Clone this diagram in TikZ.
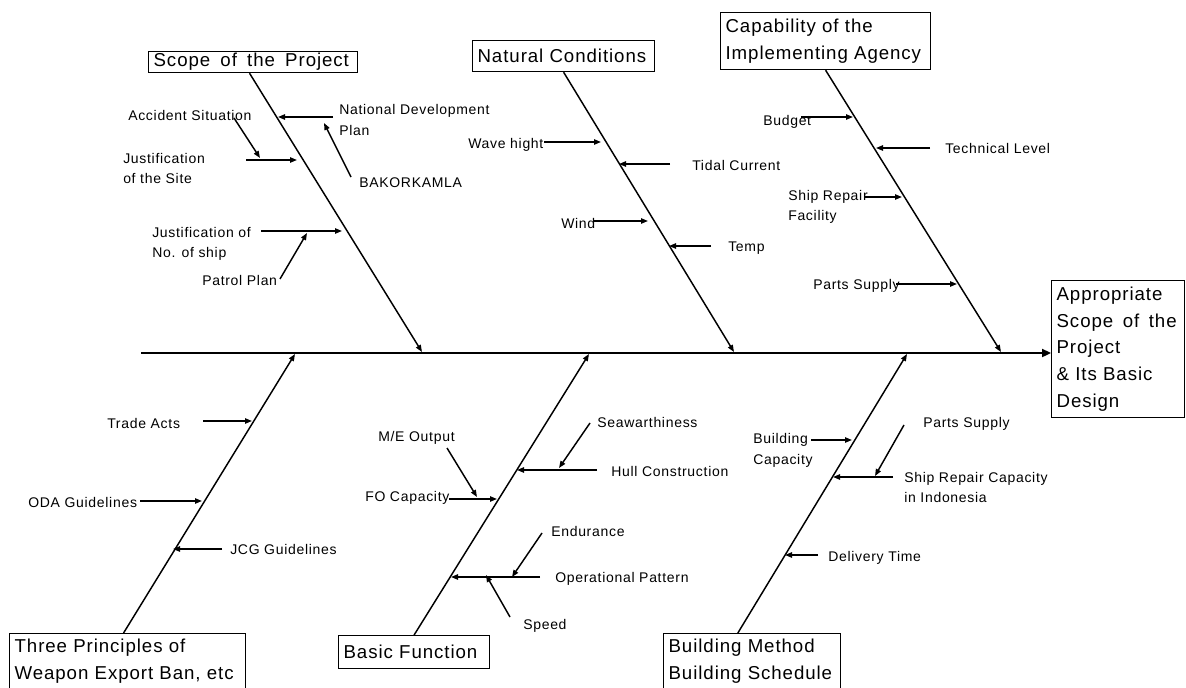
\documentclass[tikz,border=0pt]{standalone}
\usepackage{fontspec}
\setmainfont[LetterSpace=5]{Liberation Sans}
\usetikzlibrary{arrows.meta,calc}
\begin{document}
\begin{tikzpicture}[x=0.75pt, y=-0.75pt, >={Triangle[length=5.25pt,width=4pt]}, every node/.style={inner sep=0pt, align=left}]
\tikzstyle{box}=[draw, line width=0.9pt, anchor=north west, inner xsep=3.75pt, inner ysep=1pt, font=\fontsize{14}{20}\selectfont]
\tikzstyle{cause}=[anchor=west, font=\fontsize{10.5}{15.5}\selectfont]
\tikzstyle{bone}=[->, line width=1.1pt]
\tikzstyle{twig}=[->, line width=1.1pt]
\tikzstyle{spine}=[-{Triangle[length=6.75pt,width=6pt]}, line width=2.2pt]
\fill[white] (0,0) rectangle (1186,688);
\useasboundingbox (0,0) rectangle (1186,688);
\clip (0,0) rectangle (1186,688);
\node[box, text width=149.25pt, minimum height=15.75pt] (scope) at (148,51) {Scope\hspace{3pt} of\hspace{3pt} the\hspace{3pt} Project};
\node[box, text width=129pt, minimum height=23.25pt] (natural) at (472,40) {Natural Conditions};
\node[box, text width=150pt, minimum height=42.75pt] (capab) at (720,12) {Capability of the\\Implementing Agency};
\node[box, text width=92.25pt, minimum height=102.75pt] (main) at (1051,280) {Appropriate\\Scope\hspace{2.5pt} of\hspace{2.5pt} the\\Project\\\& Its Basic\\Design};
\node[box, text width=169.5pt, inner ysep=4pt] (three) at (9,633) {Three Principles of\\Weapon Export Ban, etc\\~};
\node[box, text width=105.75pt, minimum height=24.75pt] (basic) at (338,635) {Basic Function};
\node[box, text width=125.25pt, inner ysep=4pt] (build) at (663,633) {Building Method\\Building Schedule\\~};
\node[cause] (acc) at (128,115) {Accident Situation};
\node[cause] (site) at (123,168.5) {Justification\\of the Site};
\node[cause] (ndp) at (339,120) {National Development\\Plan};
\node[cause] (bak) at (359,183) {BAKORKAMLA};
\node[cause] (ship) at (152,244) {Justification of\\No. of ship};
\node[cause] (patrol) at (202,280) {Patrol Plan};
\node[cause] (wave) at (468,145) {Wave hight};
\node[cause] (tidal) at (692,165) {Tidal Current};
\node[cause] (wind) at (561,223) {Wind};
\node[cause] (temp) at (728,248) {Temp};
\node[cause] (budget) at (763,122) {Budget};
\node[cause] (tech) at (945,148) {Technical Level};
\node[cause] (srf) at (788,207) {Ship Repair\\Facility};
\node[cause] (parts) at (813,286) {Parts Supply};
\node[cause] (trade) at (107,423) {Trade Acts};
\node[cause] (oda) at (28,502) {ODA Guidelines};
\node[cause] (jcg) at (230,549) {JCG Guidelines};
\node[cause] (me) at (378,438) {M/E Output};
\node[cause] (fo) at (365,498) {FO Capacity};
\node[cause] (sea) at (597,422) {Seawarthiness};
\node[cause] (hull) at (611,471) {Hull Construction};
\node[cause] (endur) at (551,531) {Endurance};
\node[cause] (op) at (555,579) {Operational Pattern};
\node[cause] (speed) at (523,626) {Speed};
\node[cause] (bc) at (753,450.5) {Building\\Capacity};
\node[cause] (parts2) at (923,424) {Parts Supply};
\node[cause] (src) at (904,487.5) {Ship Repair Capacity\\in Indonesia};
\node[cause] (dt) at (828,558) {Delivery Time};
\coordinate (spine0) at (141,353);
\coordinate (tipS) at (422,352);
\coordinate (tipN) at (734,352);
\coordinate (tipC) at (1001,352);
\coordinate (tipT) at (295,354);
\coordinate (tipB) at (589,354);
\coordinate (tipM) at (907,354);
\coordinate (acc-t) at (234,118); \coordinate (acc-h) at (260,158);
\coordinate (site-t) at (246,160); \coordinate (site-h) at (297,160);
\coordinate (ndp-t) at (333,117); \coordinate (ndp-h) at (278,117);
\coordinate (bak-t) at (351,177); \coordinate (bak-h) at (324,123);
\coordinate (ship-t) at (261,231); \coordinate (ship-h) at (342,231);
\coordinate (patrol-t) at (280,279); \coordinate (patrol-h) at (307,233);
\coordinate (wave-t) at (544,142); \coordinate (wave-h) at (601,142);
\coordinate (tidal-t) at (670,164); \coordinate (tidal-h) at (619,164);
\coordinate (wind-t) at (593,221); \coordinate (wind-h) at (648,221);
\coordinate (temp-t) at (711,246); \coordinate (temp-h) at (669,246);
\coordinate (budget-t) at (801,117); \coordinate (budget-h) at (853,117);
\coordinate (tech-t) at (930,148); \coordinate (tech-h) at (876,148);
\coordinate (srf-t) at (864,197); \coordinate (srf-h) at (902,197);
\coordinate (parts-t) at (896,284); \coordinate (parts-h) at (957,284);
\coordinate (trade-t) at (203,421); \coordinate (trade-h) at (252,421);
\coordinate (oda-t) at (140,501); \coordinate (oda-h) at (202,501);
\coordinate (jcg-t) at (222,549); \coordinate (jcg-h) at (173,549);
\coordinate (me-t) at (447,448); \coordinate (me-h) at (477,497);
\coordinate (fo-t) at (449,499); \coordinate (fo-h) at (497,499);
\coordinate (sea-t) at (590,423); \coordinate (sea-h) at (559,468);
\coordinate (hull-t) at (597,470); \coordinate (hull-h) at (517,470);
\coordinate (endur-t) at (542,533); \coordinate (endur-h) at (512,577);
\coordinate (op-t) at (540,577); \coordinate (op-h) at (451,577);
\coordinate (speed-t) at (510,617); \coordinate (speed-h) at (486,575);
\coordinate (bc-t) at (811,440); \coordinate (bc-h) at (852,440);
\coordinate (parts2-t) at (904,425); \coordinate (parts2-h) at (875,476);
\coordinate (src-t) at (893,477); \coordinate (src-h) at (833,477);
\coordinate (dt-t) at (818,555); \coordinate (dt-h) at (785,555);
\draw[spine] (spine0) -- (spine0 -| main.west);
\draw[bone] ($(scope.south west)!0.483!(scope.south east)$) -- (tipS);
\draw[bone] (natural.south) -- (tipN);
\draw[bone] (capab.south) -- (tipC);
\draw[bone] ($(three.north west)!0.483!(three.north east)$) -- (tipT);
\draw[bone] (basic.north) -- (tipB);
\draw[bone] ($(build.north west)!0.42!(build.north east)$) -- (tipM);
\foreach \n in {acc,site,ndp,bak,ship,patrol,wave,tidal,wind,temp,budget,tech,srf,parts,trade,oda,jcg,me,fo,sea,hull,endur,op,speed,bc,parts2,src,dt}
  \draw[twig] (\n-t) -- (\n-h);
\end{tikzpicture}
\end{document}
